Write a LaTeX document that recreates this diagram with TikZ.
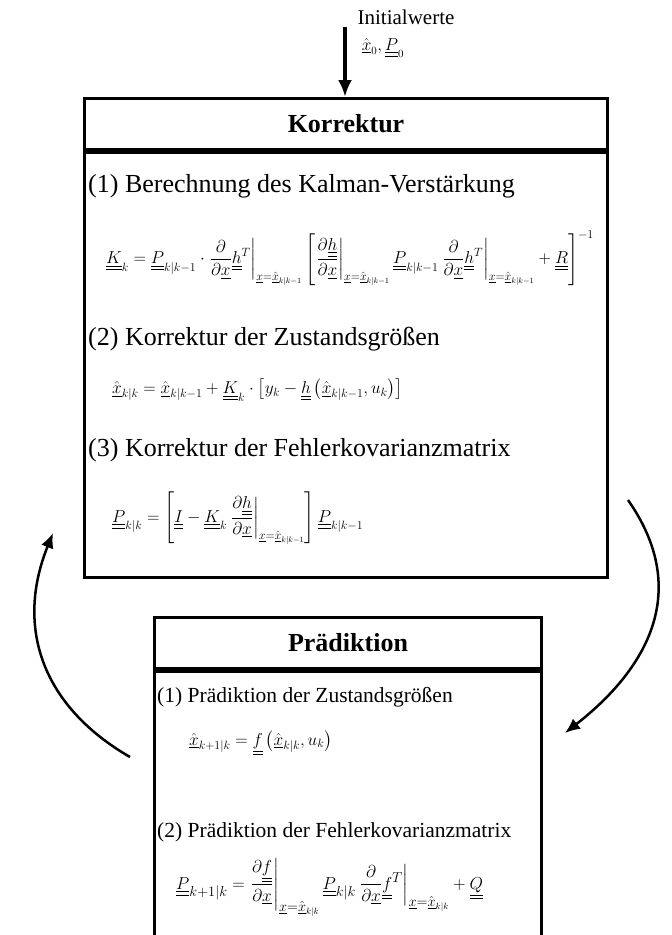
\documentclass[tikz,border=0pt]{standalone}
\usepackage{amsmath}
\usepackage{fontspec}
\setmainfont{Liberation Serif}
\usetikzlibrary{arrows.meta}

\newcommand{\vct}[1]{\underline{#1}}
\newcommand{\mtx}[1]{\underline{\underline{#1}}}

\tikzset{
  kopf/.style={draw, line width=3pt, minimum width=#1, minimum height=51pt,
    inner sep=0pt, anchor=north west, font=\fontsize{26}{30}\selectfont\bfseries},
  rumpf/.style={draw, line width=3pt, minimum width=#1, inner sep=0pt, anchor=north},
  punkt/.style={anchor=west, inner sep=0pt, font=\fontsize{26}{30}\selectfont},
  punktklein/.style={anchor=west, inner sep=0pt, font=\fontsize{21.5}{26}\selectfont},
  formel/.style={anchor=west, inner sep=0pt, font=\fontsize{16.7}{20}\selectfont},
  formelgross/.style={anchor=west, inner sep=0pt, font=\fontsize{18}{21}\selectfont},
  pfeil/.style={line width=2.5pt, -{Latex[length=15pt,width=13pt]}}
}

\begin{document}
\begin{tikzpicture}[x=1pt,y=1pt]
  \useasboundingbox (0,0) rectangle (672,-935);
  \clip (0,0) rectangle (672,-935);
  %--- Initialwerte ---
  \node[inner sep=0pt, font=\fontsize{21}{24}\selectfont] (init) at (406,-17) {Initialwerte};
  \node[inner sep=0pt, font=\fontsize{16}{18}\selectfont] (initwert) at (383,-48)
    {$\hat{\vct{x}}_0,\mtx{P}_0$};
  \coordinate (einA) at (345,-27);
  %--- Korrektur ---
  \node[kopf=523pt] (kor) at (83,-97) {Korrektur};
  \node[rumpf=523pt, minimum height=425pt] (korbody) at (kor.south) {};
  \draw[line width=4pt, -{Latex[length=17pt,width=14pt]}] (einA) -- (kor.north -| einA);
  \node[punkt] (k1) at (88,-186) {(1) Berechnung des Kalman-Verstärkung};
  \node[formel] (kf1) at (106,-258)
    {$\displaystyle\mtx{K}_k=\mtx{P}_{k|k-1}\cdot\left.\frac{\partial}{\partial\vct{x}}\mtx{h}^T\right|_{\vct{x}=\hat{\vct{x}}_{k|k-1}}
      \left[\left.\frac{\partial\mtx{h}}{\partial\vct{x}}\right|_{\vct{x}=\hat{\vct{x}}_{k|k-1}}\mtx{P}_{k|k-1}
      \left.\frac{\partial}{\partial\vct{x}}\mtx{h}^T\right|_{\vct{x}=\hat{\vct{x}}_{k|k-1}}+\mtx{R}\right]^{-1}$};
  \node[punkt] (k2) at (88,-339) {(2) Korrektur der Zustandsgrößen};
  \node[formel] (kf2) at (112,-390)
    {$\displaystyle\hat{\vct{x}}_{k|k}=\hat{\vct{x}}_{k|k-1}+\mtx{K}_k\cdot\left[y_k-\mtx{h}\left(\hat{\vct{x}}_{k|k-1},u_k\right)\right]$};
  \node[punkt] (k3) at (88,-450) {(3) Korrektur der Fehlerkovarianzmatrix};
  \node[formel] (kf3) at (112,-518)
    {$\displaystyle\mtx{P}_{k|k}=\left[\mtx{I}-\mtx{K}_k\left.\frac{\partial\mtx{h}}{\partial\vct{x}}\right|_{\vct{x}=\hat{\vct{x}}_{k|k-1}}\right]\mtx{P}_{k|k-1}$};
  %--- Praediktion ---
  \node[kopf=387pt] (pred) at (153,-616) {Prädiktion};
  \node[rumpf=387pt, minimum height=330pt] (predbody) at (pred.south) {};
  \node[punktklein] (p1) at (157,-697) {(1) Prädiktion der Zustandsgrößen};
  \node[formelgross] (pf1) at (189,-743)
    {$\displaystyle\hat{\vct{x}}_{k+1|k}=\mtx{f}\left(\hat{\vct{x}}_{k|k},u_k\right)$};
  \node[punktklein] (p2) at (157,-832) {(2) Prädiktion der Fehlerkovarianzmatrix};
  \node[formelgross, font=\fontsize{19}{22}\selectfont] (pf2) at (176,-888)
    {$\displaystyle\mtx{P}_{k+1|k}=\left.\frac{\partial\mtx{f}}{\partial\vct{x}}\right|_{\vct{x}=\hat{\vct{x}}_{k|k}}\mtx{P}_{k|k}
      \left.\frac{\partial}{\partial\vct{x}}\mtx{f}^T\right|_{\vct{x}=\hat{\vct{x}}_{k|k}}+\mtx{Q}$};
  %--- Kreislauf ---
  \coordinate (rechtsA) at (628,-500);
  \coordinate (rechtsB) at (565,-733);
  \coordinate (linksA) at (130,-757);
  \coordinate (linksB) at (53,-533);
  \draw[pfeil] (rechtsA) to[out=-55,in=38,looseness=1.15] (rechtsB);
  \draw[pfeil] (linksA) to[out=150,in=-112,looseness=1.1] (linksB);
\end{tikzpicture}
\end{document}
